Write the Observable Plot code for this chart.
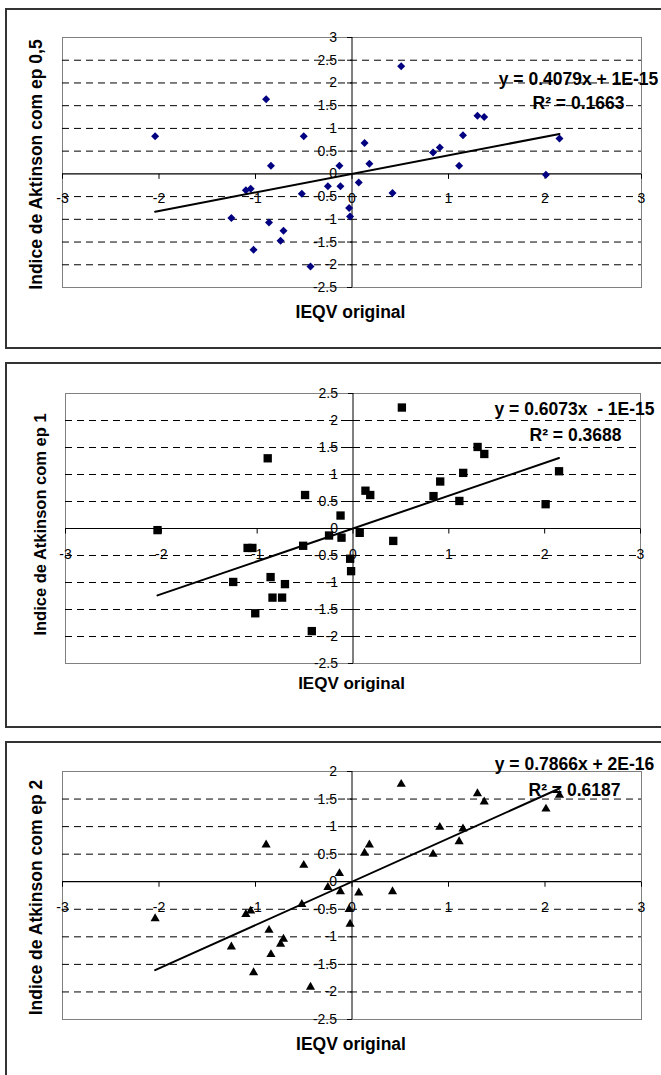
<!DOCTYPE html>
<html>
<head>
<meta charset="utf-8">
<script src="https://cdn.jsdelivr.net/npm/d3@7"></script>
<script src="https://cdn.jsdelivr.net/npm/@observablehq/plot@0.6"></script>
<style>
  html, body { margin: 0; padding: 0; background: #fff; }
  body { width: 661px; height: 1075px; overflow: hidden; position: relative;
         font-family: "Liberation Sans", Arial, sans-serif; }
  .box { position: absolute; left: 5px; width: 720px; border: 2px solid #333; box-sizing: border-box; }
  .chart { position: absolute; left: 0; }
</style>
</head>
<body>
<script>
// ---- data ----
const xIEQV = [0.51, -0.89, -0.50, 0.13, -0.84, -0.86, -0.71, -0.74, -0.13, 0.18,
               -1.10, -1.05, -0.52, -0.25, -0.12, 0.07, 0.42, -0.03, -0.02, -1.25,
               -1.02, -0.43, -2.04, 0.84, 0.91, 1.15, 1.11, 1.30, 1.37, 2.01, 2.15];
const yEp05 = [2.37, 1.64, 0.83, 0.68, 0.18, -1.07, -1.25, -1.47, 0.18, 0.22,
               -0.36, -0.33, -0.44, -0.27, -0.27, -0.19, -0.42, -0.75, -0.94, -0.97,
               -1.67, -2.04, 0.83, 0.47, 0.58, 0.85, 0.18, 1.28, 1.25, -0.02, 0.78];
const yEp1  = [2.24, 1.30, 0.62, 0.70, -1.28, -0.90, -1.03, -1.28, 0.24, 0.62,
               -0.36, -0.36, -0.32, -0.13, -0.17, -0.08, -0.23, -0.56, -0.79, -0.99,
               -1.57, -1.90, -0.03, 0.60, 0.87, 1.03, 0.51, 1.51, 1.38, 0.45, 1.06];
const yEp2  = [1.77, 0.67, 0.30, 0.52, -1.32, -0.88, -1.04, -1.13, 0.15, 0.67,
               -0.59, -0.53, -0.41, -0.10, -0.18, -0.20, -0.18, -0.50, -0.77, -1.18,
               -1.65, -1.91, -0.67, 0.50, 0.99, 0.96, 0.73, 1.60, 1.45, 1.32, 1.57];

const slopes = [0.4079, 0.6073, 0.7866];
const intercepts = [1e-15, -1e-15, 2e-16];
const equationLabels = ["y = 0.4079x + 1E-15", "y = 0.6073x  - 1E-15", "y = 0.7866x + 2E-16"];
const r2Labels = ["R\u00B2 = 0.1663", "R\u00B2 = 0.3688", "R\u00B2 = 0.6187"];
const yTitles = ["Indice de Aktinson com ep 0,5", "Indice de Atkinson com ep 1", "Indice de Atkinson com ep 2"];
const xTitle = "IEQV original";
const xTicks = [-3, -2, -1, 0, 1, 2, 3];
const yTicks1 = [-2.5, -2, -1.5, -1, -0.5, 0, 0.5, 1, 1.5, 2, 2.5, 3];
const yTicks2 = [-2.5, -2, -1.5, -1, -0.5, 0, 0.5, 1, 1.5, 2, 2.5];
const yTicks3 = [-2.5, -2, -1.5, -1, -0.5, 0, 0.5, 1, 1.5, 2];

// ---- layout / style ----
const font = "Liberation Sans, Arial, sans-serif";
const panels = [
  { ys: yEp05, yTicks: yTicks1, top: 8, height: 341, boxH: 341,
    m: [29, 20, 62, 62], symbol: "diamond2", color: "#000080", r: 3.6,
    eq: [-63, 35], r2: [-63, 59], yt: [-26, 2], ytSize: 17.5, xt: [-1.5, 30], xtSize: 17.5, xl: 25 },
  { ys: yEp1, yTicks: yTicks2, top: 362, height: 366, boxH: 366,
    m: [31, 21, 65, 65], symbol: "square", color: "#000", r: 4.7,
    eq: [-66, 9], r2: [-65, 35], yt: [-25, -4], ytSize: 16.5, xt: [-1.5, 25], xtSize: 17, xl: 26 },
  { ys: yEp2, yTicks: yTicks3, top: 741, height: 334, boxH: 400,
    m: [30, 20, 56, 62], symbol: "triangle", color: "#000", r: 3.4,
    eq: [-67, -14], r2: [-67, 12], yt: [-26, 2], ytSize: 17.5, xt: [-1, 30], xtSize: 17.5, xl: 26 }
];

const leftTick = { draw(ctx) { ctx.moveTo(-5, 0); ctx.lineTo(0, 0); } };
const downTick = { draw(ctx) { ctx.moveTo(0, 0); ctx.lineTo(0, 5); } };

panels.forEach((p, k) => {
  const box = document.createElement("div");
  box.className = "box";
  box.style.top = p.top + "px";
  box.style.height = p.boxH + "px";
  document.body.appendChild(box);

  const rows = xIEQV.map((x, i) => ({ x, y: p.ys[i] }));
  const [xmin, xmax] = d3.extent(xIEQV);
  const trend = [xmin, xmax].map(x => ({ x, y: slopes[k] * x + intercepts[k] }));
  const ymin = d3.min(p.yTicks), ymax = d3.max(p.yTicks);
  const gridTicks = p.yTicks.filter(t => t !== 0 && t !== ymin && t !== ymax);

  const chart = Plot.plot({
    width: 661,
    height: p.height,
    marginTop: p.m[0], marginRight: p.m[1], marginBottom: p.m[2], marginLeft: p.m[3],
    style: { fontFamily: font, fontSize: "14px", background: "transparent", overflow: "visible", color: "#000" },
    x: { domain: [-3, 3], axis: null },
    y: { domain: [ymin, ymax], axis: null },
    marks: [
      Plot.frame({ stroke: "#808080", strokeWidth: 1 }),
      Plot.ruleY(gridTicks, { stroke: "#000", strokeWidth: 1, strokeDasharray: "7,5" }),
      Plot.ruleY([0], { stroke: "#000", strokeWidth: 1.2 }),
      Plot.ruleX([0], { stroke: "#000", strokeWidth: 1 }),
      Plot.dot(p.yTicks, { x: 0, y: d => d, symbol: leftTick, fill: "none", stroke: "#000", strokeWidth: 1 }),
      Plot.dot(xTicks, { x: d => d, y: 0, symbol: downTick, fill: "none", stroke: "#000", strokeWidth: 1 }),
      Plot.text(p.yTicks, { x: 0, y: d => d, text: d => String(d), textAnchor: "end", dx: -15, fontSize: 14 }),
      Plot.text(xTicks, { x: d => d, y: 0, text: d => String(d), dy: p.xl, fontSize: 14 }),
      Plot.dot(rows, { x: "x", y: "y", symbol: p.symbol, r: p.r, fill: p.color, stroke: "none" }),
      Plot.line(trend, { x: "x", y: "y", stroke: "#000", strokeWidth: 2 }),
      Plot.text([equationLabels[k]], { frameAnchor: "top-right", text: d => d, textAnchor: "middle",
        dx: p.eq[0], dy: p.eq[1], fontWeight: "bold", fontSize: 17.5 }),
      Plot.text([r2Labels[k]], { frameAnchor: "top-right", text: d => d, textAnchor: "middle",
        dx: p.r2[0], dy: p.r2[1], fontWeight: "bold", fontSize: 17.5 }),
      Plot.text([yTitles[k]], { frameAnchor: "left", text: d => d, rotate: -90, textAnchor: "middle",
        dx: p.yt[0], dy: p.yt[1], fontWeight: "bold", fontSize: p.ytSize }),
      Plot.text([xTitle], { frameAnchor: "bottom", text: d => d, textAnchor: "middle",
        dx: p.xt[0], dy: p.xt[1], fontWeight: "bold", fontSize: p.xtSize })
    ]
  });
  chart.classList.add("chart");
  chart.style.top = p.top + "px";
  document.body.appendChild(chart);
});
</script>
</body>
</html>
